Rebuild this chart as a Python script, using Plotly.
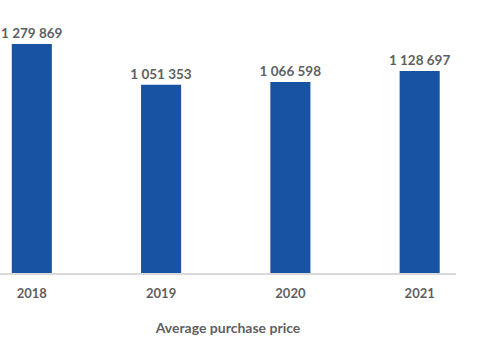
import plotly.graph_objects as go

years = ["2018", "2019", "2020", "2021"]
avg_price = [1279869, 1051353, 1066598, 1128697]
labels = ["1 279 869", "1 051 353", "1 066 598", "1 128 697"]

FONT = "Lato"
GRAY = "#5f5f5f"

fig = go.Figure(
    go.Bar(
        x=years,
        y=avg_price,
        text=labels,
        textposition="outside",
        constraintext="none",
        textfont=dict(family=FONT, size=13.5, color=GRAY, weight="bold"),
        marker=dict(color="#1853A3", line=dict(width=0)),
        width=0.31,
        cliponaxis=False,
        hoverinfo="skip",
    )
)

fig.update_layout(
    width=480,
    height=340,
    margin=dict(l=0, r=24, t=10, b=66.5),
    paper_bgcolor="white",
    plot_bgcolor="white",
    showlegend=False,
    uniformtext=dict(mode=False),
    xaxis=dict(
        type="category",
        range=[-0.246, 3.281],
        showline=True,
        linecolor="#d9d9d9",
        linewidth=1.5,
        showgrid=False,
        ticks="",
        ticklabelstandoff=8,
        tickfont=dict(family=FONT, size=13, color=GRAY, weight="bold"),
        title=dict(
            text="Average purchase price",
            font=dict(family=FONT, size=14, color=GRAY, weight="bold"),
            standoff=23,
        ),
    ),
    yaxis=dict(
        range=[0, 1469600],
        visible=False,
        showgrid=False,
        zeroline=False,
    ),
)

fig.write_html("out.html")
